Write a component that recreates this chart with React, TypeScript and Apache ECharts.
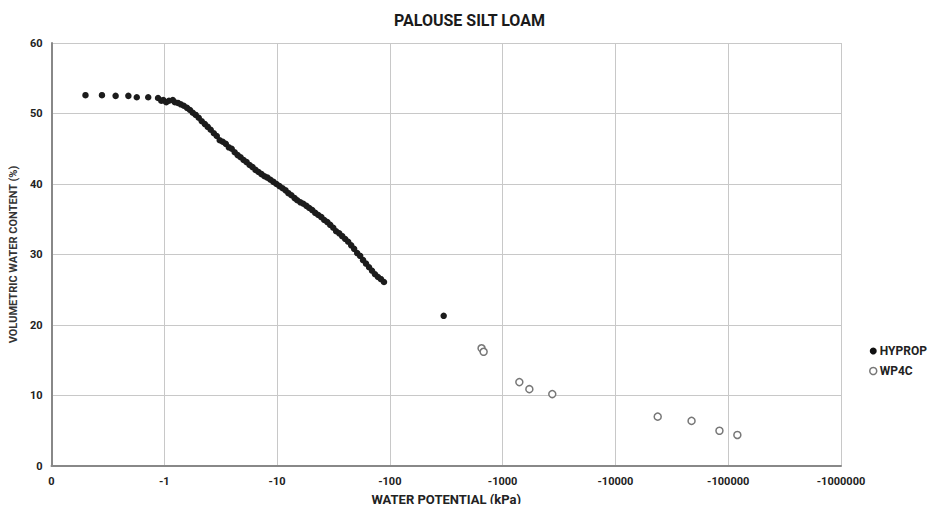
import React, { useEffect, useRef } from "react";
import * as echarts from "echarts";

const titleText = "PALOUSE SILT LOAM";
const xAxisName = "WATER POTENTIAL (kPa)";
const yAxisName = "VOLUMETRIC WATER CONTENT (%)";
const seriesNames = ["HYPROP", "WP4C"];

// water potential magnitude (kPa, plotted as negative labels), volumetric water content (%)
const hypropPotential = [
  0.2, 0.28, 0.37, 0.48, 0.57, 0.72, 0.88, 0.94, 0.98, 1.04, 1.1, 1.19, 1.24, 1.32, 1.4, 1.49,
  1.59, 1.69, 1.79, 1.9, 2.02, 2.15, 2.29, 2.43, 2.58, 2.75, 2.92, 3.1, 3.3, 3.51, 3.73, 3.96,
  4.21, 4.47, 4.75, 5.05, 5.37, 5.71, 6.06, 6.44, 6.85, 7.28, 7.74, 8.22, 8.74, 9.29, 9.88,
  10.5, 11.2, 11.9, 12.6, 13.4, 14.3, 15.1, 16.1, 17.1, 18.2, 19.3, 20.5, 21.8, 23.2, 24.7,
  26.2, 27.9, 29.6, 31.5, 33.4, 35.6, 37.8, 40.2, 42.7, 45.4, 48.2, 51.3, 54.5, 57.9, 61.5,
  65.4, 69.5, 73.9, 78.5, 83.4, 88.7, 300,
];
const hypropWater = [
  52.6, 52.6, 52.5, 52.5, 52.3, 52.3, 52.2, 51.8, 51.9, 51.6, 51.8, 51.9, 51.6, 51.5, 51.3, 51.1,
  50.8, 50.5, 50.1, 49.8, 49.4, 48.9, 48.5, 48.1, 47.7, 47.2, 46.8, 46.2, 46.0, 45.7, 45.2, 45.0,
  44.5, 44.1, 43.8, 43.4, 43.1, 42.7, 42.4, 42.0, 41.7, 41.4, 41.1, 40.9, 40.6, 40.3, 40.0,
  39.7, 39.4, 39.1, 38.7, 38.4, 38.0, 37.7, 37.4, 37.2, 36.9, 36.6, 36.3, 35.9, 35.6, 35.3,
  34.9, 34.6, 34.2, 33.8, 33.3, 33.0, 32.6, 32.2, 31.8, 31.3, 30.8, 30.2, 29.8, 29.2, 28.7,
  28.2, 27.7, 27.2, 26.8, 26.5, 26.1, 21.3,
];
const wp4cPotential = [650, 678, 1406, 1725, 2754, 23700, 47300, 83600, 120500];
const wp4cWater = [16.7, 16.2, 11.9, 10.9, 10.2, 7.0, 6.4, 5.0, 4.4];

const xMin = 0.1;
const xMax = 1000000;
const yMin = 0;
const yMax = 60;
const yInterval = 10;

const FONT = "Roboto";

export default function App() {
  const ref = useRef<HTMLDivElement>(null);
  useEffect(() => {
    if (!ref.current) return;
    const chart = echarts.init(ref.current, null, { renderer: "svg" });
    const hypropData = hypropPotential.map((x, i) => [x, hypropWater[i]]);
    const wp4cData = wp4cPotential.map((x, i) => [x, wp4cWater[i]]);
    chart.setOption({
      animation: false,
      backgroundColor: "#ffffff",
      textStyle: { fontFamily: FONT },
      title: {
        text: titleText,
        left: "center",
        top: 7,
        textStyle: { fontFamily: FONT, fontSize: 16, fontWeight: "bold", color: "#1a1a1a" },
      },
      grid: { left: 48, right: 98, top: 43, bottom: 46, containLabel: false },
      legend: {
        orient: "vertical",
        left: 864,
        top: 340,
        itemWidth: 7,
        itemHeight: 7,
        itemGap: 8,
        icon: "circle",
        textStyle: { fontFamily: FONT, fontSize: 12, fontWeight: "bold", color: "#222", padding: [0, 0, 0, -2] },
        data: [
          { name: seriesNames[0], itemStyle: { color: "#111", borderColor: "#111" } },
          { name: seriesNames[1], itemStyle: { color: "#fff", borderColor: "#777", borderWidth: 1.5 } },
        ],
      },
      xAxis: {
        type: "log",
        logBase: 10,
        min: xMin,
        max: xMax,
        name: xAxisName,
        nameLocation: "middle",
        nameGap: 27,
        nameTextStyle: { fontFamily: FONT, fontSize: 13, fontWeight: "bold", color: "#222" },
        axisLine: { show: true, lineStyle: { color: "#888", width: 2 } },
        axisTick: { show: false },
        splitLine: { show: true, lineStyle: { color: "#c8c8c8", width: 1 } },
        axisLabel: {
          fontFamily: FONT,
          fontSize: 11,
          fontWeight: "bold",
          color: "#222",
          margin: 10,
          formatter: (v: number) => (v < 1 ? "0" : "-" + Math.round(v)),
        },
      },
      yAxis: {
        type: "value",
        min: yMin,
        max: yMax,
        interval: yInterval,
        name: yAxisName,
        nameLocation: "middle",
        nameGap: 29,
        nameTextStyle: { fontFamily: FONT, fontSize: 11, fontWeight: "bold", color: "#333" },
        axisLine: { show: true, lineStyle: { color: "#888", width: 2 } },
        axisTick: { show: false },
        splitLine: { show: true, lineStyle: { color: "#c8c8c8", width: 1 } },
        axisLabel: { fontFamily: FONT, fontSize: 11, fontWeight: "bold", color: "#222", margin: 9 },
      },
      series: [
        {
          name: seriesNames[0],
          type: "scatter",
          symbol: "circle",
          symbolSize: 6.5,
          itemStyle: { color: "#1c1c1c", opacity: 1 },
          data: hypropData,
        },
        {
          name: seriesNames[1],
          type: "scatter",
          symbol: "circle",
          symbolSize: 7,
          itemStyle: { color: "#ffffff", borderColor: "#777", borderWidth: 1.5, opacity: 1 },
          data: wp4cData,
        },
      ],
    });
    return () => chart.dispose();
  }, []);
  return <div ref={ref} style={{ width: 939, height: 512, margin: -8 }} />;
}
